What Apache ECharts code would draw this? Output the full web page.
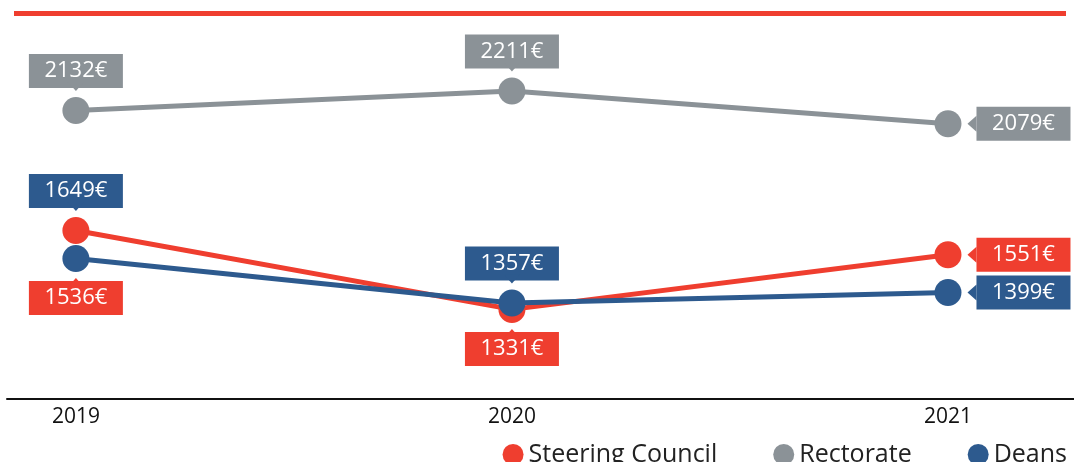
<!DOCTYPE html>
<html>
<head>
<meta charset="utf-8">
<script src="https://cdn.jsdelivr.net/npm/echarts@6/dist/echarts.min.js"></script>
<style>
  html, body { margin: 0; padding: 0; background: #fff; }
  #chart { width: 1074px; height: 462px; }
</style>
</head>
<body>
<div id="chart"></div>
<script>
  // data
  const years = [2019, 2020, 2021];
  const steeringCouncil = [1649, 1331, 1551];
  const rectorate = [2132, 2211, 2079];
  const deans = [1536, 1357, 1399];

  const RED = '#ef3e2f', GREY = '#8b9297', BLUE = '#2d5a8e';
  const FONT = 'Open Sans';

  // value box next to a point
  function valueLabel(pos, bg) {
    return {
      show: true,
      position: pos,
      distance: 15,
      formatter: p => '{box|' + p.value[1] + '€}',
      rich: {
        box: {
          backgroundColor: bg, color: '#fff', fontSize: 22, fontFamily: FONT,
          width: 70, align: 'center', lineHeight: 22, padding: [6, 12, 6, 12]
        }
      }
    };
  }

  // the little pointer triangle between box and point
  function pointer(year, v, pos, bg) {
    const rot = { top: 180, bottom: 0, right: 90 }[pos];
    const off = { top: [0, -24], bottom: [0, 24], right: [24, 0] }[pos];
    return {
      coord: [year, v], symbol: 'triangle', symbolSize: [16, 9],
      symbolRotate: rot, symbolOffset: off,
      itemStyle: { color: bg }, label: { show: false }
    };
  }

  function lineSeries(name, color, values, places) {
    return {
      name: name,
      type: 'line',
      data: values.map((v, i) => ({
        value: [years[i], v], label: valueLabel(places[i][0], places[i][1])
      })),
      symbol: 'circle',
      symbolSize: 27,
      lineStyle: { color: color, width: 5 },
      itemStyle: { color: color },
      markPoint: {
        silent: true,
        data: values.map((v, i) => pointer(years[i], v, places[i][0], places[i][1]))
      },
      z: 2
    };
  }

  const chart = echarts.init(document.getElementById('chart'));
  chart.setOption({
    animation: false,
    color: [RED, GREY, BLUE],
    grid: { left: 7, right: 0, top: 13, bottom: 63 },
    graphic: [{
      type: 'rect', left: 14, top: 11,
      shape: { width: 1052, height: 5 },
      style: { fill: RED }
    }],
    legend: {
      data: ['Steering Council', 'Rectorate', 'Deans'],
      icon: 'circle', itemWidth: 21, itemHeight: 21, itemGap: 56,
      right: 2, top: 437,
      textStyle: { fontSize: 25, color: '#222', fontFamily: FONT }
    },
    xAxis: {
      type: 'value', min: 2018.842, max: 2021.289,
      axisLine: { lineStyle: { color: '#111', width: 2 } },
      axisTick: { show: false },
      splitLine: { show: false },
      axisLabel: {
        customValues: years, formatter: v => String(v),
        fontSize: 21, color: '#111', fontFamily: FONT, margin: 8
      }
    },
    yAxis: {
      type: 'value', min: 970, max: 2525, show: false,
      splitLine: { show: false }
    },
    series: [
      lineSeries('Steering Council', RED, steeringCouncil,
        [['top', BLUE], ['bottom', RED], ['right', RED]]),
      lineSeries('Rectorate', GREY, rectorate,
        [['top', GREY], ['top', GREY], ['right', GREY]]),
      lineSeries('Deans', BLUE, deans,
        [['bottom', RED], ['top', BLUE], ['right', BLUE]])
    ]
  });
</script>
</body>
</html>
